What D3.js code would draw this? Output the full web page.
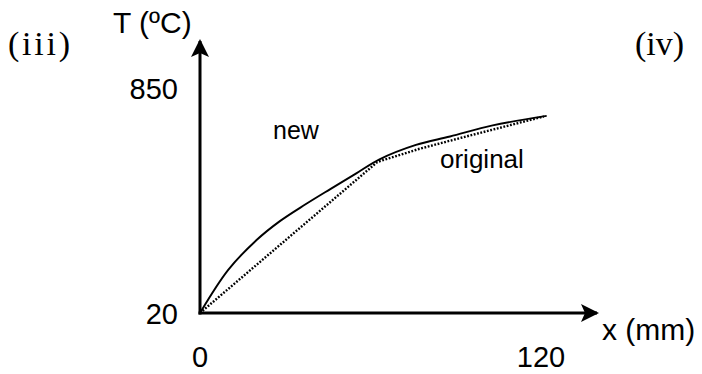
<!DOCTYPE html>
<html>
<head>
<meta charset="utf-8">
<script src="https://cdn.jsdelivr.net/npm/d3@7"></script>
<style>
  html, body { margin: 0; padding: 0; background: #fff; }
  svg { display: block; }
</style>
</head>
<body>
<svg id="chart" width="702" height="374"></svg>
<script>
// Data
const newX   = [0, 10, 20, 28, 37, 46, 55, 63, 76, 88, 103, 122];
const newT   = [20, 180, 290, 358, 420, 478, 535, 586, 640, 671, 712, 747];
const origX  = [0, 62.4, 77, 92.5, 121];
const origT  = [20, 577, 625, 668, 745];
const xTicks = [0, 120];
const yTicks = [20, 850];
const seriesLabels = ["new", "original"];

const svg = d3.select("#chart");
const x = d3.scaleLinear().domain([0, 120]).range([200, 541]);
const y = d3.scaleLinear().domain([20, 850]).range([313, 88]);

const sans = "'Liberation Sans', Arial, Helvetica, sans-serif";
const serif = "'Liberation Serif', 'Times New Roman', serif";

// Axes with arrows
svg.append("defs").append("marker")
  .attr("id", "arrow").attr("viewBox", "0 0 18 18")
  .attr("refX", 16).attr("refY", 9)
  .attr("markerWidth", 18).attr("markerHeight", 18)
  .attr("markerUnits", "userSpaceOnUse")
  .attr("orient", "auto")
  .append("path").attr("d", "M0,0 L18,9 L0,18 L4,9 Z").attr("fill", "#000");

svg.append("line").attr("x1", x(0)).attr("y1", y(20) + 1.5).attr("x2", x(0)).attr("y2", 41)
  .attr("stroke", "#000").attr("stroke-width", 3).attr("marker-end", "url(#arrow)");
svg.append("line").attr("x1", x(0) - 1.5).attr("y1", y(20)).attr("x2", 597).attr("y2", y(20))
  .attr("stroke", "#000").attr("stroke-width", 3).attr("marker-end", "url(#arrow)");

const lineNew = d3.line().x(d => x(d[0])).y(d => y(d[1])).curve(d3.curveCatmullRom.alpha(0.5));
const lineOrig = d3.line().x(d => x(d[0])).y(d => y(d[1])).curve(d3.curveLinear);

svg.append("path").datum(origX.map((v, i) => [v, origT[i]]))
  .attr("d", lineOrig).attr("fill", "none").attr("stroke", "#000")
  .attr("stroke-width", 2.4).attr("stroke-dasharray", "1.8 1.6");
svg.append("path").datum(newX.map((v, i) => [v, newT[i]]))
  .attr("d", lineNew).attr("fill", "none").attr("stroke", "#000").attr("stroke-width", 1.9);

// Tick labels
svg.selectAll(".xt").data(xTicks).enter().append("text")
  .attr("x", d => x(d)).attr("y", 367).attr("text-anchor", "middle")
  .attr("font-family", sans).attr("font-size", 29).text(d => d);
svg.selectAll(".yt").data(yTicks).enter().append("text")
  .attr("x", 178).attr("y", d => y(d) + 10.5).attr("text-anchor", "end")
  .attr("font-family", sans).attr("font-size", 29).text(d => d);

// Axis titles
svg.append("text").attr("x", 113).attr("y", 33).attr("font-family", sans).attr("font-size", 30).text("T (ºC)");
svg.append("text").attr("x", 602).attr("y", 340).attr("font-family", sans).attr("font-size", 30).text("x (mm)");

// Series labels
svg.append("text").attr("x", 273).attr("y", 139).attr("font-family", sans).attr("font-size", 25).text(seriesLabels[0]);
svg.append("text").attr("x", 440).attr("y", 168).attr("font-family", sans).attr("font-size", 26).text(seriesLabels[1]);

// Panel labels
svg.append("text").attr("x", 8).attr("y", 55).attr("font-family", serif).attr("font-size", 34)
  .attr("letter-spacing", 2.8).text("(iii)");
svg.append("text").attr("x", 635).attr("y", 55).attr("font-family", serif).attr("font-size", 34).text("(iv)");
</script>
</body>
</html>
